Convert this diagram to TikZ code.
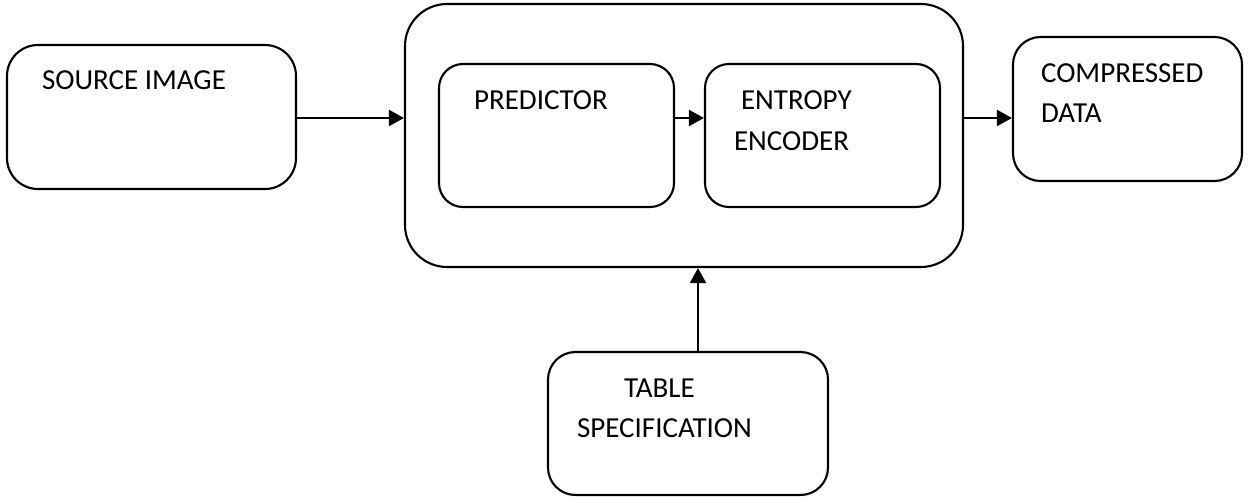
\documentclass[tikz,border=0pt]{standalone}
\usepackage{fontspec}
\setmainfont{Carlito}
\usetikzlibrary{arrows.meta}

\begin{document}
\begin{tikzpicture}[line width=1.2pt,
  every node/.style={font=\fontsize{16.5}{20}\selectfont},
  blk/.style={draw, rounded corners=#1, inner sep=0pt},
  blk/.default=0.5cm,
  txt/.style={anchor=base west, inner sep=0pt},
  arr/.style={-{Triangle[length=0.3cm,width=0.32cm]}}]
  \useasboundingbox (0,0) rectangle (24.98,9.98);
  % blocks
  \node[blk=0.62cm, minimum width=5.78cm, minimum height=2.88cm] (src) at (3.03,7.64) {};
  \node[blk=0.84cm, minimum width=11.16cm, minimum height=5.26cm] (core) at (13.68,7.27) {};
  \node[blk=0.48cm, minimum width=4.70cm, minimum height=2.86cm] (pred) at (11.13,7.27) {};
  \node[blk=0.48cm, minimum width=4.70cm, minimum height=2.86cm] (ent) at (16.45,7.27) {};
  \node[blk=0.55cm, minimum width=4.58cm, minimum height=2.88cm] (out) at (22.55,7.80) {};
  \node[blk=0.55cm, minimum width=5.60cm, minimum height=2.86cm] (tab) at (13.76,1.51) {};
  % labels, set near the top left of each block
  \node[txt] (srcText) at (0.82,8.18) {SOURCE IMAGE};
  \node[txt] (predText) at (9.46,7.80) {PREDICTOR};
  \node[txt] (entText) at (14.80,7.80) {ENTROPY};
  \node[txt] (encText) at (14.66,6.98) {ENCODER};
  \node[txt] (outText) at (20.80,8.34) {COMPRESSED};
  \node[txt] (dataText) at (20.80,7.54) {DATA};
  \node[txt] (tabText) at (12.46,2.04) {TABLE};
  \node[txt] (specText) at (11.52,1.24) {SPECIFICATION};
  % arrows
  \coordinate (flow) at (0,7.62);
  \coordinate (feed) at (13.96,0);
  \draw[arr] (src.east |- flow) -- (core.west |- flow);
  \draw[arr] (pred.east |- flow) -- (ent.west |- flow);
  \draw[arr] (core.east |- flow) -- (out.west |- flow);
  \draw[arr] (tab.north -| feed) -- (core.south -| feed);
\end{tikzpicture}
\end{document}
